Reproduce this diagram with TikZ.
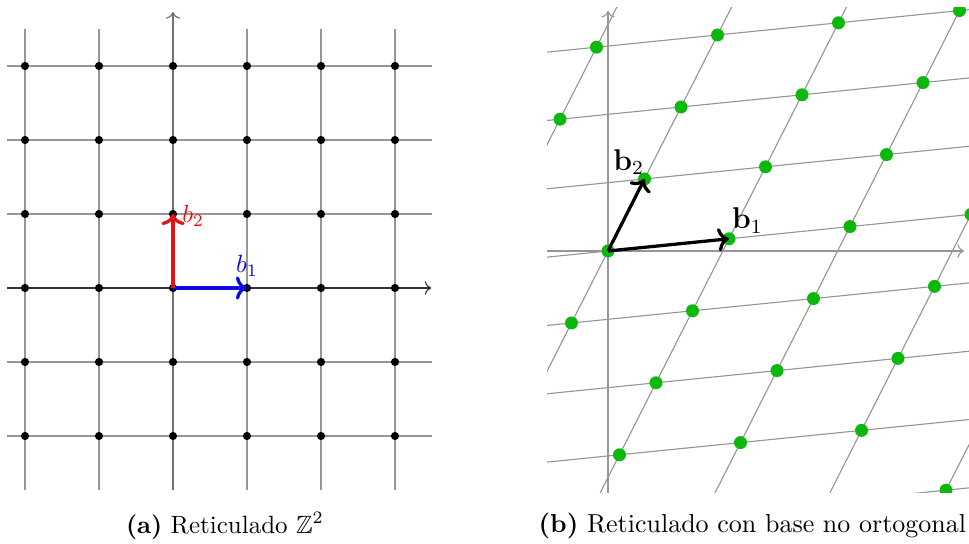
\documentclass[tikz,border=0pt]{standalone}
\usepackage{amssymb}
\usepackage{tikz}
\usetikzlibrary{positioning,arrows.meta,calc}
\definecolor{latgreen}{RGB}{12,184,12}
\definecolor{latgrid}{RGB}{150,150,150}
\definecolor{latred}{RGB}{228,20,20}
\definecolor{latblue}{RGB}{10,10,225}
\tikzset{
  gridln/.style={draw=latgrid,line width=0.45pt},
  axisln/.style={->,draw=black!80,line width=0.45pt},
  vaxisln/.style={->,draw=black!55,line width=0.5pt},
  blackdot/.style={fill=black},
  greendot/.style={fill=latgreen},
  basvec/.style={->,line width=1.3pt},
  veclbl/.style={inner sep=1pt,font=\normalsize},
  capt/.style={font=\normalsize,inner sep=0pt},
}
\begin{document}
\begin{tikzpicture}[x=0.4pt,y=-0.4pt]
  \useasboundingbox (0,0) rectangle (969,544);
  % (a) square lattice
  \begin{scope}[shift={(173,288)},x=29.6pt,y=29.6pt]
    \foreach \i in {-2,...,3} \draw[gridln] (\i,-2.73) -- (\i,3.5);
    \foreach \j in {-2,-1,1,2,3} \draw[gridln] (-2.24,\j) -- (3.5,\j);
    \draw[axisln] (-2.24,0) -- (3.49,0);
    \draw[vaxisln] (0,-2.73) -- (0,3.73);
    \foreach \i in {-2,...,3}
      \foreach \j in {-2,...,3}
        \fill[blackdot] (\i,\j) circle (1.65pt);
    \coordinate (Oa) at (0,0);
    \coordinate (A1) at (1,0);
    \coordinate (A2) at (0,1);
    \draw[basvec,draw=latblue] (Oa) -- (A1);
    \draw[basvec,draw=latred] (Oa) -- (A2);
    \node[veclbl,text=latblue,above=3.5pt of A1] (la1) {$b_1$};
    \node[veclbl,text=latred,anchor=west] (la2) at ([xshift=2.5pt,yshift=-0.8pt]A2) {$b_2$};
  \end{scope}
  % (b) skew lattice
  \begin{scope}
    \clip (547,8) rectangle (975,493);
    \draw[gridln,->] (547,251) -- (964,251);
    \draw[gridln,->] (608,493) -- (608,11);
    \begin{scope}[shift={(608,251)},x={(48.4pt,4.88pt)},y={(14.6pt,28.8pt)}]
      \foreach \j in {-5,...,4} \draw[gridln] (-4,\j) -- (7,\j);
      \foreach \i in {-4,...,7} \draw[gridln] (\i,-6) -- (\i,5);
      \foreach \i in {-3,...,6}
        \foreach \j in {-5,...,4}
          \fill[greendot] (\i,\j) circle (2.6pt);
      \coordinate (Ob) at (0,0);
      \coordinate (B1) at (1,0);
      \coordinate (B2) at (0,1);
      \draw[basvec,draw=black] (Ob) -- (B1);
      \draw[basvec,draw=black] (Ob) -- (B2);
    \end{scope}
  \end{scope}
  \node[veclbl,font=\large,above right=1pt and 0pt of B1] (lb1) {$\mathbf{b}_1$};
  \node[veclbl,font=\large,above left=0.5pt and -1pt of B2] (lb2) {$\mathbf{b}_2$};
  % captions
  \node[capt] (capa) at (225,526) {\textbf{(a)} Reticulado $\mathbb{Z}^2$};
  \node[capt,anchor=west,scale=1.04] (capb) at (538,526) {\textbf{(b)} Reticulado con base no ortogonal};
\end{tikzpicture}
\end{document}
